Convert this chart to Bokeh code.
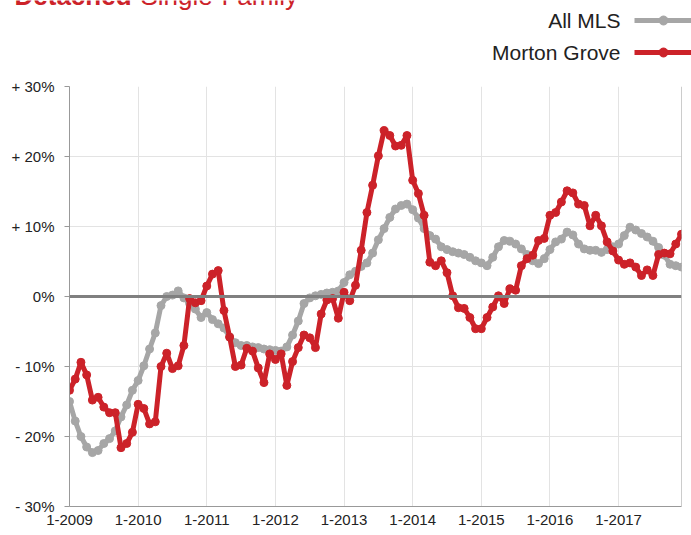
from bokeh.plotting import figure
from bokeh.layouts import column
from bokeh.models import FixedTicker, Span, Range1d
from bokeh.core.properties import value
from bokeh.embed import file_html
from bokeh.resources import INLINE

# ---- data (monthly, Jan 2009 .. Dec 2017), % change ----
all_mls = [
    -15, -17.8, -20, -21.5, -22.3, -22, -21, -20.3, -19.2, -17.2, -15.5, -13.4,
    -12, -9.9, -7.5, -5.2, -1.3, 0, 0.2, 0.8, -0.2, -1, -1.8, -3,
    -2.3, -3.3, -3.9, -4.5, -5.8, -6.6, -7, -7, -7.2, -7.3, -7.5, -7.6,
    -7.7, -7.8, -7.2, -5.5, -3.5, -1, -0.2, 0.1, 0.3, 0.5, 0.6, 0.8,
    2, 3.1, 3.6, 4.3, 4.8, 6.2, 8.1, 9.7, 11.3, 12.5, 13, 13.2,
    12.4, 11.2, 9.7, 8.7, 8.2, 7.1, 6.7, 6.4, 6.2, 6, 5.6, 5.1,
    4.8, 4.4, 5.6, 7.1, 8, 7.9, 7.5, 6.8, 6, 5.1, 4.7, 5.4,
    6.7, 7.8, 8.2, 9.2, 8.8, 7.5, 6.8, 6.6, 6.6, 6.3, 6.7, 7.1,
    7.5, 8.7, 9.9, 9.5, 9, 8.5, 7.9, 7, 5.9, 4.6, 4.4, 4.2,
]
morton_grove = [
    -13.4, -11.8, -9.4, -11.2, -14.8, -14.4, -15.8, -16.6, -16.6, -21.6, -21, -19.4,
    -15.4, -16, -18.2, -17.9, -10, -8.1, -10.3, -9.9, -7, -0.3, -0.9, -0.6,
    1.5, 3.2, 3.7, -2, -5.8, -10, -9.8, -7.4, -7.8, -10.2, -12.3, -8.2,
    -9, -8.2, -12.7, -9.3, -7.3, -5.5, -5.9, -7.3, -2.5, -0.5, -0.3, -3.1,
    0.6, -0.6, 1.6, 6.6, 12, 15.9, 20.1, 23.7, 23, 21.5, 21.6, 23,
    16.6, 14.7, 11.6, 4.9, 4.4, 5.1, 3.4, 0.1, -1.6, -1.7, -3, -4.6,
    -4.6, -3, -1.5, 0.1, -1, 1.1, 0.9, 4.4, 5.4, 5.9, 8, 8.3,
    11.6, 12, 13.5, 15.1, 14.8, 13.2, 13, 10.1, 11.6, 10.1, 7.8, 6.5,
    5.2, 4.6, 4.8, 4.2, 3, 3.8, 3, 6, 6.2, 6.1, 7.5, 8.9,
]
months = list(range(len(all_mls)))
year_ticks = [0, 12, 24, 36, 48, 60, 72, 84, 96]
year_labels = ["1-2009", "1-2010", "1-2011", "1-2012", "1-2013",
               "1-2014", "1-2015", "1-2016", "1-2017"]
y_ticks = [-30, -20, -10, 0, 10, 20, 30]
y_labels = ["- 30%", "- 20%", "- 10%", "0%", "+ 10%", "+ 20%", "+ 30%"]
series_names = ["All MLS", "Morton Grove"]
title_bold = "Detached"
title_rest = "Single-Family"

GREY = "#a6a6a6"
RED = "#cc2229"
FONT = "Liberation Sans"
W = 691
HEAD_H = 70

# ---------- header strip: title + legend (pixel coordinates, y downwards) ----------
head = figure(width=W, height=HEAD_H, output_backend="svg", toolbar_location=None,
              x_range=Range1d(0, W), y_range=Range1d(HEAD_H, 0),
              x_axis_location=None, y_axis_location=None,
              min_border=0, min_border_left=0, min_border_right=0,
              min_border_top=0, min_border_bottom=0)
head.frame_align = False
head.grid.visible = False
head.outline_line_color = None

# title sits mostly above the top edge, as in the reference
head.text(x=[14], y=[-5], text=[title_bold], text_color=RED,
          text_font=value(FONT), text_font_style="bold", text_font_size="26px",
          text_align="left", text_baseline="alphabetic")
head.text(x=[140], y=[-5], text=[title_rest], text_color=RED,
          text_font=value(FONT), text_font_size="26px",
          text_align="left", text_baseline="alphabetic")

legend_y = [20, 52]
for name, color, yc in zip(series_names, [GREY, RED], legend_y):
    head.text(x=[620], y=[yc], text=[name], text_color="#222222",
              text_font=value(FONT), text_font_size="21px",
              text_align="right", text_baseline="middle")
    head.line(x=[634, 700], y=[yc, yc], line_color=color, line_width=5)
    head.scatter(x=[663], y=[yc], marker="circle", size=9,
                 fill_color=color, line_color=color)

# ---------- main chart ----------
p = figure(width=W, height=535 - HEAD_H, output_backend="svg", toolbar_location=None,
           x_range=Range1d(0, len(months) - 1), y_range=Range1d(-30, 30),
           min_border_left=69, min_border_right=10, min_border_top=16,
           min_border_bottom=29)
p.frame_align = False
p.outline_line_color = None
p.background_fill_color = "white"

p.xgrid.ticker = FixedTicker(ticks=year_ticks)
p.ygrid.ticker = FixedTicker(ticks=y_ticks)
p.grid.grid_line_color = "#e3e3e3"
p.grid.grid_line_width = 1

p.xaxis.ticker = FixedTicker(ticks=year_ticks)
p.xaxis.major_label_overrides = dict(zip(year_ticks, year_labels))
p.yaxis.ticker = FixedTicker(ticks=y_ticks)
p.yaxis.major_label_overrides = dict(zip(y_ticks, y_labels))
for ax in (p.xaxis, p.yaxis):
    ax.axis_line_color = "#999999"
    ax.major_tick_line_color = "#999999"
    ax.minor_tick_line_color = None
    ax.major_label_text_font = FONT
    ax.major_label_text_font_size = "15px"
    ax.major_label_text_color = "#222222"
p.xaxis.major_tick_out = 0
p.xaxis.major_tick_in = 0
p.xaxis.major_label_standoff = 8
p.yaxis.major_tick_out = 5
p.yaxis.major_tick_in = 0
p.yaxis.major_label_standoff = 10

p.add_layout(Span(location=0, dimension="width", line_color="#808080", line_width=3))
p.add_layout(Span(location=len(months) - 1, dimension="height",
                  line_color="#999999", line_width=1))

p.line(months, all_mls, line_color=GREY, line_width=5)
p.scatter(months, all_mls, marker="circle", size=8, fill_color=GREY, line_color=GREY)
p.line(months, morton_grove, line_color=RED, line_width=5)
p.scatter(months, morton_grove, marker="circle", size=8, fill_color=RED, line_color=RED)

layout = column(head, p, spacing=0)
open("out.html", "w").write(file_html(layout, INLINE))
